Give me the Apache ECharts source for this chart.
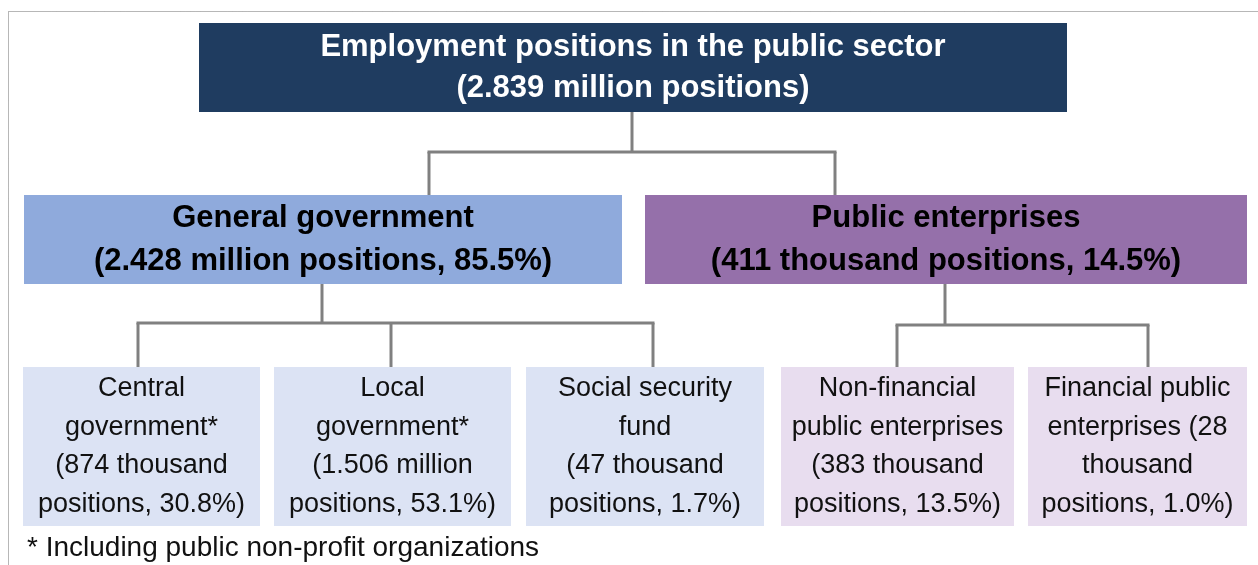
<!DOCTYPE html>
<html>
<head>
<meta charset="utf-8">
<style>
html, body { margin: 0; padding: 0; background: #fff; }
#chart { width: 1258px; height: 565px; }
</style>
<script src="https://cdn.jsdelivr.net/npm/echarts@6/dist/echarts.min.js"></script>
</head>
<body>
<div id="chart"></div>
<script>
// what the chart says
const rootName = 'Employment positions in the public sector';
const rootValue = '2.839 million positions';
const groupNames = ['General government', 'Public enterprises'];
const groupValues = ['2.428 million positions, 85.5%', '411 thousand positions, 14.5%'];
const unitLabels = [
    'Central\ngovernment*\n(874 thousand\npositions, 30.8%)',
    'Local\ngovernment*\n(1.506 million\npositions, 53.1%)',
    'Social security\nfund\n(47 thousand\npositions, 1.7%)',
    'Non-financial\npublic enterprises\n(383 thousand\npositions, 13.5%)',
    'Financial public\nenterprises (28\nthousand\npositions, 1.0%)'
];
const unitGroups = [0, 0, 0, 1, 1];
const footnote = '* Including public non-profit organizations';

// layout (pixel space of the hidden axes)
const rootBox = [199, 23, 1067, 112];
const groupBoxes = [[24, 195, 622, 284], [645, 195, 1247, 284]];
const unitBoxes = [
    [23, 367, 260, 526],
    [274, 367, 511, 526],
    [526, 367, 764, 526],
    [781, 367, 1014, 526],
    [1028, 367, 1247, 526]
];
const rootLink = { x: 632, top: 112, bar: 152, drops: [429, 835], bottom: 195 };
const groupLinks = [
    { x: 322, top: 284, bar: 323, drops: [138, 391, 653], bottom: 367 },
    { x: 945, top: 284, bar: 325, drops: [897, 1148], bottom: 367 }
];

const groupFills = ['#8FAADC', '#9570AA'];
const unitFills = ['#DCE3F4', '#E8DDEF'];
const lineColor = '#808080';
const fontFamily = '"Liberation Sans", Arial, sans-serif';

const nodes = [];
nodes.push({
    value: rootBox,
    text: rootName + '\n(' + rootValue + ')',
    fill: '#1F3C60', color: '#fff', weight: 'bold', size: 31, lh: 41
});
groupNames.forEach(function (name, i) {
    nodes.push({
        value: groupBoxes[i],
        text: name + '\n(' + groupValues[i] + ')',
        fill: groupFills[i], color: '#000', weight: 'bold', size: 31, lh: 43
    });
});
unitLabels.forEach(function (label, i) {
    nodes.push({
        value: unitBoxes[i],
        text: label,
        fill: unitFills[unitGroups[i]], color: '#111', weight: 'normal', size: 27, lh: 38.5
    });
});

const links = [rootLink].concat(groupLinks);

const chart = echarts.init(document.getElementById('chart'));

chart.setOption({
    animation: false,
    grid: { left: 0, right: 0, top: 0, bottom: 0 },
    xAxis: { type: 'value', min: 0, max: 1258, show: false },
    yAxis: { type: 'value', min: 0, max: 565, inverse: true, show: false },
    graphic: [
        {
            type: 'rect',
            shape: { x: 8.5, y: 11.5, width: 1300, height: 600 },
            style: { fill: 'none', stroke: '#6e6e6e', lineWidth: 1, lineDash: [1, 1] },
            silent: true
        },
        {
            type: 'text',
            left: 27, top: 534,
            style: { text: footnote, fill: '#111', fontSize: 28, fontFamily: fontFamily }
        }
    ],
    series: [
        {
            type: 'custom',
            name: 'links',
            data: links.map(function (l) { return [l.x, l.top]; }),
            renderItem: function (params, api) {
                const l = links[params.dataIndex];
                const style = { stroke: lineColor, lineWidth: 3 };
                const p = function (x, y) { return api.coord([x, y]); };
                const children = [];
                const a = p(l.x, l.top), b = p(l.x, l.bar);
                children.push({ type: 'line', shape: { x1: a[0], y1: a[1], x2: b[0], y2: b[1] }, style: style });
                const minX = Math.min.apply(null, l.drops), maxX = Math.max.apply(null, l.drops);
                const c = p(minX, l.bar), d = p(maxX, l.bar);
                children.push({ type: 'line', shape: { x1: c[0] - 1.5, y1: c[1], x2: d[0] + 1.5, y2: d[1] }, style: style });
                l.drops.forEach(function (x) {
                    const s = p(x, l.bar), e = p(x, l.bottom);
                    children.push({ type: 'line', shape: { x1: s[0], y1: s[1], x2: e[0], y2: e[1] }, style: style });
                });
                return { type: 'group', children: children };
            },
            z: 1
        },
        {
            type: 'custom',
            name: 'nodes',
            data: nodes.map(function (n) { return n.value; }),
            renderItem: function (params, api) {
                const n = nodes[params.dataIndex];
                const p0 = api.coord([api.value(0), api.value(1)]);
                const p1 = api.coord([api.value(2), api.value(3)]);
                return {
                    type: 'group',
                    children: [
                        {
                            type: 'rect',
                            shape: { x: p0[0], y: p0[1], width: p1[0] - p0[0], height: p1[1] - p0[1] },
                            style: { fill: n.fill }
                        },
                        {
                            type: 'text',
                            style: {
                                text: n.text,
                                x: (p0[0] + p1[0]) / 2,
                                y: (p0[1] + p1[1]) / 2,
                                align: 'center',
                                verticalAlign: 'middle',
                                fill: n.color,
                                fontSize: n.size,
                                fontWeight: n.weight,
                                fontFamily: fontFamily,
                                lineHeight: n.lh
                            }
                        }
                    ]
                };
            },
            z: 2
        }
    ]
});
</script>
</body>
</html>
